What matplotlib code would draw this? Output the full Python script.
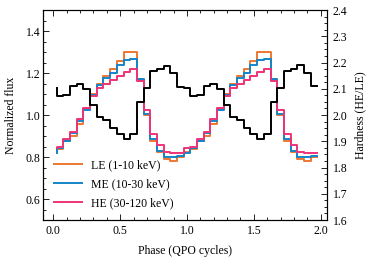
import numpy as np
import matplotlib
matplotlib.use("Agg")
import matplotlib.pyplot as plt
from matplotlib.ticker import MultipleLocator

plt.rcParams['font.family'] = ['Liberation Serif', 'DejaVu Serif']
plt.rcParams['font.size'] = 8.5
plt.rcParams['mathtext.fontset'] = 'stix'

# phase bins (two QPO cycles, 20 bins each)
phase = np.arange(40) * 0.05 + 0.025

# normalized flux per band
le_flux = [0.825, 0.840, 0.874, 0.900, 0.956, 1.027, 1.100, 1.150, 1.185, 1.221,
           1.256, 1.300, 1.300, 1.168, 1.000, 0.875, 0.825, 0.791, 0.779, 0.800,
           0.825, 0.840, 0.874, 0.900, 0.956, 1.027, 1.100, 1.150, 1.185, 1.221,
           1.256, 1.300, 1.300, 1.168, 1.000, 0.875, 0.825, 0.791, 0.779, 0.800]
me_flux = [0.818, 0.842, 0.877, 0.913, 0.973, 1.024, 1.095, 1.142, 1.174, 1.200,
           1.237, 1.261, 1.269, 1.170, 1.005, 0.885, 0.831, 0.802, 0.798, 0.806,
           0.818, 0.842, 0.877, 0.913, 0.973, 1.024, 1.095, 1.142, 1.174, 1.200,
           1.237, 1.261, 1.269, 1.170, 1.005, 0.885, 0.831, 0.802, 0.798, 0.806]
he_flux = [0.845, 0.850, 0.885, 0.921, 0.980, 1.032, 1.090, 1.127, 1.150, 1.166,
           1.185, 1.205, 1.221, 1.162, 1.022, 0.910, 0.855, 0.825, 0.818, 0.818,
           0.845, 0.850, 0.885, 0.921, 0.980, 1.032, 1.090, 1.127, 1.150, 1.166,
           1.185, 1.205, 1.221, 1.162, 1.022, 0.910, 0.855, 0.825, 0.818, 0.818]

# hardness ratio HE/LE
hardness = [2.103, 2.073, 2.077, 2.112, 2.119, 2.099, 2.038, 1.993, 1.981, 1.949,
            1.929, 1.907, 1.929, 2.051, 2.103, 2.168, 2.176, 2.188, 2.160, 2.108,
            2.103, 2.073, 2.077, 2.112, 2.119, 2.099, 2.038, 1.993, 1.981, 1.949,
            1.929, 1.907, 1.929, 2.051, 2.103, 2.167, 2.176, 2.190, 2.160, 2.109]

labels = ['LE (1-10 keV)', 'ME (10-30 keV)', 'HE (30-120 keV)']
colors = ['#EE7733', '#1485C8', '#EE3377']

fig = plt.figure(figsize=(3.74, 2.6), dpi=100)
ax = fig.add_axes([0.1158, 0.1538, 0.7577, 0.8077])

for y, lab, c in zip([le_flux, me_flux, he_flux], labels, colors):
    ax.step(phase, y, where='pre', color=c, lw=1.4, label=lab)

ax2 = ax.twinx()
ax2.step(phase, hardness, where='pre', color='black', lw=1.4)

ax.set_xlim(-0.075, 2.045)
ax.set_ylim(0.5, 1.5)
ax2.set_ylim(1.6, 2.4)

ax.xaxis.set_major_locator(MultipleLocator(0.5))
ax.xaxis.set_minor_locator(MultipleLocator(0.1))
ax.yaxis.set_major_locator(MultipleLocator(0.2))
ax.yaxis.set_minor_locator(MultipleLocator(0.05))
ax2.yaxis.set_major_locator(MultipleLocator(0.1))
ax2.yaxis.set_minor_locator(MultipleLocator(0.025))

ax.tick_params(which='both', direction='in', top=True, right=False, width=0.6)
ax.tick_params(which='major', length=4)
ax.tick_params(which='minor', length=2)
ax.tick_params(axis='y', pad=2.2)
ax.tick_params(axis='x', pad=3.5)
ax2.tick_params(which='both', direction='in', width=0.6, pad=4.5)
ax2.tick_params(which='major', length=4)
ax2.tick_params(which='minor', length=2)

for sp in list(ax.spines.values()) + list(ax2.spines.values()):
    sp.set_linewidth(0.8)

ax.set_xlabel('Phase (QPO cycles)', labelpad=6)
ax.set_ylabel('Normalized flux', labelpad=6)
ax2.set_ylabel('Hardness (HE/LE)', labelpad=5)

ax.legend(loc='lower left', frameon=False, handlelength=2.4, labelspacing=0.6,
          borderaxespad=0.5, handletextpad=0.7)

fig.savefig('out.png', dpi=100)
